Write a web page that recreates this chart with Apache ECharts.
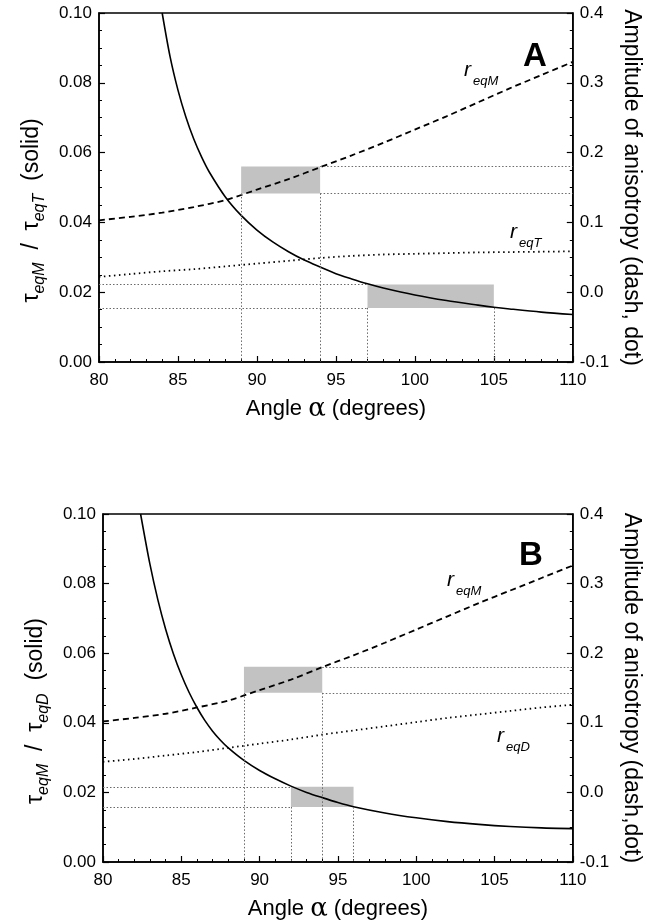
<!DOCTYPE html>
<html>
<head>
<meta charset="utf-8">
<script src="https://cdn.jsdelivr.net/npm/echarts@6/dist/echarts.min.js"></script>
<style>
html,body{margin:0;padding:0;background:#fff;}
#chart{width:651px;height:923px;}
</style>
</head>
<body>
<div id="chart"></div>
<script>
// ---------- DATA ----------
// Panel A: solid curve tau_eqM / tau_eqT (left axis)
const angleTauA = [84, 84.5, 85, 85.5, 86, 86.5, 87, 88, 89, 90, 91, 92, 93, 94, 95, 96, 97, 98, 100, 102, 104, 105, 106, 108, 110];
const tauRatioA = [0.100, 0.0875, 0.0779, 0.0702, 0.0639, 0.0587, 0.0543, 0.0473, 0.0420, 0.0378, 0.0344, 0.0316, 0.0292, 0.0272, 0.0253, 0.0238, 0.0224, 0.0212, 0.0192, 0.0176, 0.0163, 0.0157, 0.0152, 0.0143, 0.0136];
// Panel B: solid curve tau_eqM / tau_eqD (left axis)
const angleTauB = [82.4, 83, 83.5, 84, 84.5, 85, 85.5, 86, 86.5, 87, 87.5, 88, 89, 90, 91, 92, 93, 94, 95, 96, 98, 100, 102, 104, 106, 108, 110];
const tauRatioB = [0.100, 0.0855, 0.0754, 0.0669, 0.0598, 0.0538, 0.0487, 0.0444, 0.0407, 0.0376, 0.0350, 0.0328, 0.0292, 0.0263, 0.0239, 0.0218, 0.0200, 0.0185, 0.0171, 0.0159, 0.0141, 0.0127, 0.0116, 0.0108, 0.0102, 0.0098, 0.0096];
// Anisotropy amplitudes (right axis)
const angleR = [80, 82, 84, 86, 88, 90, 92, 94, 96, 98, 100, 102, 104, 106, 108, 110];
const rEqM_A = [0.103, 0.108, 0.114, 0.122, 0.132, 0.147, 0.162, 0.179, 0.196, 0.214, 0.233, 0.252, 0.272, 0.292, 0.311, 0.330];
const rEqT_A = [0.022, 0.026, 0.030, 0.033, 0.037, 0.041, 0.045, 0.049, 0.052, 0.054, 0.055, 0.056, 0.057, 0.0575, 0.058, 0.0585];
const rEqM_B = [0.102, 0.107, 0.113, 0.122, 0.132, 0.147, 0.162, 0.180, 0.197, 0.215, 0.234, 0.253, 0.272, 0.290, 0.308, 0.326];
const rEqD_B = [0.044, 0.048, 0.053, 0.058, 0.064, 0.070, 0.076, 0.083, 0.089, 0.095, 0.101, 0.107, 0.112, 0.117, 0.122, 0.126];
// Shaded ranges: [x0, x1], [y0, y1]
const boxA_r = {x: [89, 94], y: [0.1415, 0.180]};
const boxA_tau = {x: [97, 105], y: [0.0155, 0.0222]};
const boxB_r = {x: [89, 94], y: [0.143, 0.1805]};
const boxB_tau = {x: [92, 96], y: [0.0158, 0.0216]};
// Axis ranges
const xRange = [80, 110];
const tauRange = [0, 0.10];
const rRange = [-0.1, 0.4];

// ---------- HELPERS ----------
const FONT = 'Liberation Sans, Arial, Helvetica, sans-serif';
const zip = (xs, ys) => xs.map((x, i) => [x, ys[i]]);

function xAxisDef(gi) {
  return {
    type: 'value', gridIndex: gi, min: xRange[0], max: xRange[1], interval: 5,
    name: '{t|Angle }{a|α}{t| (degrees)}', nameLocation: 'middle', nameGap: 34,
    nameTextStyle: {color: '#000', fontFamily: FONT, fontSize: 22,
      rich: {t: {fontSize: 22, fontFamily: FONT, color: '#000'}, a: {fontSize: 26, fontFamily: 'DejaVu Serif, serif', color: '#000'}}},
    axisLine: {show: true, lineStyle: {color: '#000', width: 1.5}},
    axisTick: {show: true, inside: true, length: 6, lineStyle: {color: '#000', width: 1.2}},
    minorTick: {show: true, splitNumber: 5, length: 3, lineStyle: {color: '#000', width: 1}},
    axisLabel: {color: '#000', fontFamily: FONT, fontSize: 17, margin: 10},
    splitLine: {show: false}
  };
}
function tauAxisDef(gi, sub2) {
  return {
    type: 'value', gridIndex: gi, position: 'left', min: tauRange[0], max: tauRange[1], interval: 0.02,
    name: '{t|τ}{s|eqM}{t|  /  τ}{s|' + sub2 + '}{t|  (solid)}{p|}', nameLocation: 'middle', nameGap: 50, nameRotate: 90,
    nameTextStyle: {color: '#000', fontFamily: FONT, fontSize: 22,
      rich: {
        t: {fontSize: 23, fontFamily: FONT, color: '#000', lineHeight: 32, verticalAlign: 'middle'},
        s: {fontSize: 16, fontFamily: FONT, fontStyle: 'italic', color: '#000', lineHeight: 32, verticalAlign: 'bottom'},
        p: {width: 46, lineHeight: 32}
      }},
    axisLine: {show: true, lineStyle: {color: '#000', width: 1.5}},
    axisTick: {show: true, inside: true, length: 6, lineStyle: {color: '#000', width: 1.2}},
    minorTick: {show: true, splitNumber: 4, length: 3, lineStyle: {color: '#000', width: 1}},
    axisLabel: {color: '#000', fontFamily: FONT, fontSize: 17, margin: 7, formatter: v => v.toFixed(2)},
    splitLine: {show: false}
  };
}
function rAxisDef(gi, title) {
  return {
    type: 'value', gridIndex: gi, position: 'right', min: rRange[0], max: rRange[1], interval: 0.1,
    name: title, nameLocation: 'middle', nameGap: 44, nameRotate: -90,
    nameTextStyle: {color: '#000', fontFamily: FONT, fontSize: 23},
    axisLine: {show: true, lineStyle: {color: '#000', width: 1.5}},
    axisTick: {show: true, inside: true, length: 6, lineStyle: {color: '#000', width: 1.2}},
    minorTick: {show: true, splitNumber: 4, length: 3, lineStyle: {color: '#000', width: 1}},
    axisLabel: {color: '#000', fontFamily: FONT, fontSize: 17, margin: 7, formatter: v => v.toFixed(1)},
    splitLine: {show: false}
  };
}
const refLine = {color: '#6a6a6a', width: 1, type: [1.5, 2]};
function helperSeries(xi, yi, box, hFrom, hTo, vTo) {
  return {
    type: 'line', xAxisIndex: xi, yAxisIndex: yi, data: [], z: 1, silent: true,
    markArea: {silent: true, itemStyle: {color: '#c2c2c2'},
      data: [[{coord: [box.x[0], box.y[0]]}, {coord: [box.x[1], box.y[1]]}]]},
    markLine: {silent: true, symbol: ['none', 'none'], label: {show: false}, lineStyle: refLine, animation: false,
      data: [
        [{coord: [hFrom, box.y[1]]}, {coord: [hTo, box.y[1]]}],
        [{coord: [hFrom, box.y[0]]}, {coord: [hTo, box.y[0]]}],
        [{coord: [box.x[0], box.y[0]]}, {coord: [box.x[0], vTo]}],
        [{coord: [box.x[1], box.y[0]]}, {coord: [box.x[1], vTo]}]
      ]}
  };
}
function curve(xi, yi, data, type, width) {
  return {type: 'line', xAxisIndex: xi, yAxisIndex: yi, data: data, showSymbol: false, smooth: 0.3, z: 3,
    lineStyle: {color: '#000', width: width, type: type}, silent: true};
}

const chart = echarts.init(document.getElementById('chart'), null, {renderer: 'canvas'});

function rLabel(x, y, sub) {
  return [
    {type: 'text', x: x, y: y, style: {text: 'r', fontSize: 21, fontStyle: 'italic', fontFamily: FONT, fill: '#000', verticalAlign: 'bottom'}},
    {type: 'text', x: x + 9, y: y + 7, style: {text: sub, fontSize: 13, fontStyle: 'italic', fontFamily: FONT, fill: '#000', verticalAlign: 'bottom'}}
  ];
}

chart.setOption({
  animation: false,
  backgroundColor: '#fff',
  grid: [
    {left: 99, top: 13, width: 475, height: 349, show: true, borderColor: '#000', borderWidth: 1.5, backgroundColor: 'transparent'},
    {left: 103, top: 514, width: 473, height: 348, show: true, borderColor: '#000', borderWidth: 1.5, backgroundColor: 'transparent'}
  ],
  xAxis: [xAxisDef(0), xAxisDef(1)],
  yAxis: [
    tauAxisDef(0, 'eqT'), rAxisDef(0, 'Amplitude of anisotropy (dash, dot)'),
    tauAxisDef(1, 'eqD'), rAxisDef(1, 'Amplitude of anisotropy (dash,dot)')
  ],
  series: [
    helperSeries(0, 1, boxA_r, boxA_r.x[1], xRange[1], rRange[0]),
    helperSeries(0, 0, boxA_tau, xRange[0], boxA_tau.x[0], tauRange[0]),
    curve(0, 0, zip(angleTauA, tauRatioA), 'solid', 1.6),
    curve(0, 1, zip(angleR, rEqM_A), [6, 4], 1.8),
    curve(0, 1, zip(angleR, rEqT_A), [1.5, 3.5], 1.8),
    helperSeries(1, 3, boxB_r, boxB_r.x[1], xRange[1], rRange[0]),
    helperSeries(1, 2, boxB_tau, xRange[0], boxB_tau.x[0], tauRange[0]),
    curve(1, 2, zip(angleTauB, tauRatioB), 'solid', 1.6),
    curve(1, 3, zip(angleR, rEqM_B), [6, 4], 1.8),
    curve(1, 3, zip(angleR, rEqD_B), [1.5, 3.5], 1.8)
  ],
  graphic: [
    {type: 'text', x: 535, y: 57, style: {text: 'A', fontSize: 33, fontWeight: 'bold', fontFamily: FONT, fill: '#000', align: 'center', verticalAlign: 'middle'}},
    {type: 'text', x: 531, y: 556, style: {text: 'B', fontSize: 33, fontWeight: 'bold', fontFamily: FONT, fill: '#000', align: 'center', verticalAlign: 'middle'}},
    ...rLabel(464, 81, 'eqM'),
    ...rLabel(510, 243, 'eqT'),
    ...rLabel(447, 591, 'eqM'),
    ...rLabel(497, 747, 'eqD')
  ]
});
</script>
</body>
</html>
